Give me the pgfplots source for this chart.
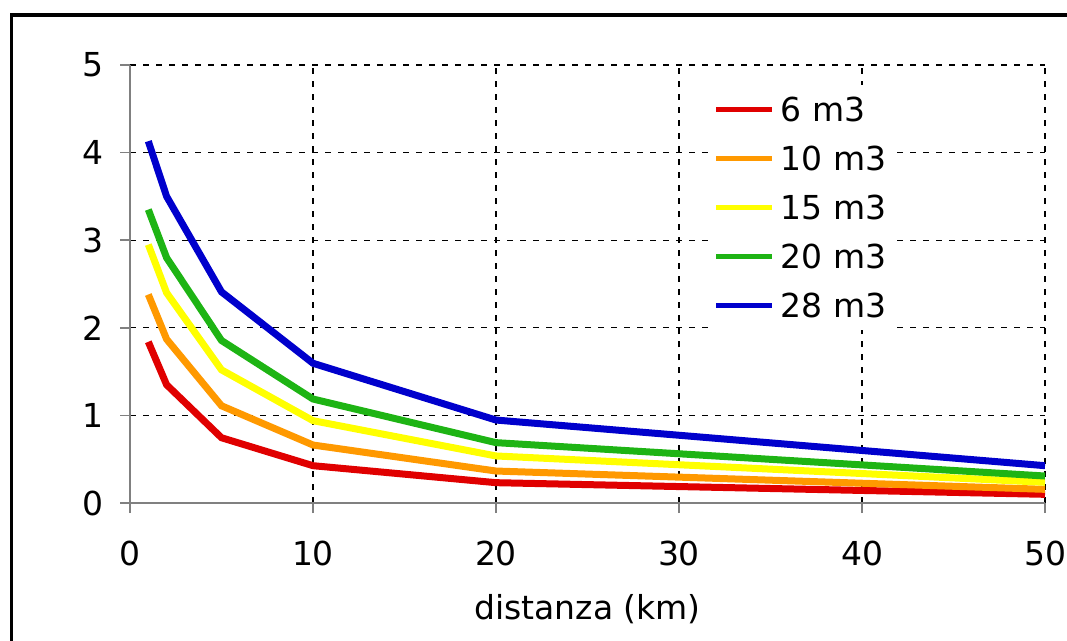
\documentclass[border=0pt]{standalone}
\usepackage{pgfplots}
\pgfplotsset{compat=1.18}
\usepackage{fontspec}
\setmainfont{DejaVu Sans}
\definecolor{cRed}{RGB}{224,0,0}
\definecolor{cOrange}{RGB}{255,153,0}
\definecolor{cYellow}{RGB}{255,255,0}
\definecolor{cGreen}{RGB}{30,180,20}
\definecolor{cBlue}{RGB}{0,0,204}
\definecolor{axgray}{RGB}{128,128,128}
\begin{document}
\begin{tikzpicture}
\useasboundingbox (0,0) rectangle (1067pt,640pt);
\clip (0,0) rectangle (1067pt,640pt);
\begin{axis}[
  at={(130pt,137pt)}, anchor=south west,
  scale only axis, width=915pt, height=438pt,
  xmin=0, xmax=50, ymin=0, ymax=5,
  xtick={0,10,20,30,40,50}, ytick={0,1,2,3,4,5},
  axis x line*=bottom, axis y line*=left,
  axis line style={draw=axgray, line width=2pt, -},
  tick style={draw=axgray, line width=1.5pt},
  tick align=outside, major tick length=10pt,
  grid=major,
  major grid style={black, line width=1.2pt, dash pattern=on 6pt off 7pt},
  /pgf/number format/assume math mode=true,
  tick label style={font=\fontsize{33}{40}\selectfont},
  yticklabel style={inner sep=0pt, xshift=-16pt},
  xticklabel style={inner sep=0pt, yshift=-28pt},
  xlabel={distanza (km)},
  xlabel style={font=\fontsize{33}{40}\selectfont, at={(axis description cs:0.5,0)}, anchor=center, yshift=-106pt},
  legend style={at={(0.638,0.954)}, anchor=north west, draw=none, fill=white,
    font=\fontsize{33}{40}\selectfont, inner xsep=0pt, inner ysep=0pt, row sep=0pt,
    nodes={text height=24pt, text depth=0pt, inner ysep=12.5pt, inner xsep=6pt}},
  legend cell align=left,
  legend image code/.code={\draw[#1, line width=5pt] (0pt,0pt) -- (56pt,0pt);},
  every axis plot/.append style={line width=7pt},
]
\addplot[cRed] coordinates {(1,1.84)(2,1.35)(5,0.745)(10,0.426)(20,0.232)(50,0.099)};
\addlegendentry{6 m3}
\addplot[cOrange] coordinates {(1,2.38)(2,1.87)(5,1.11)(10,0.662)(20,0.365)(50,0.156)};
\addlegendentry{10 m3}
\addplot[cYellow] coordinates {(1,2.95)(2,2.40)(5,1.52)(10,0.94)(20,0.537)(50,0.236)};
\addlegendentry{15 m3}
\addplot[cGreen] coordinates {(1,3.35)(2,2.80)(5,1.855)(10,1.187)(20,0.689)(50,0.308)};
\addlegendentry{20 m3}
\addplot[cBlue] coordinates {(1,4.13)(2,3.50)(5,2.41)(10,1.595)(20,0.947)(50,0.426)};
\addlegendentry{28 m3}
\end{axis}
\draw[black, line width=3.5pt] (11.7pt,625pt) rectangle (1200pt,-60pt);
\end{tikzpicture}
\end{document}
